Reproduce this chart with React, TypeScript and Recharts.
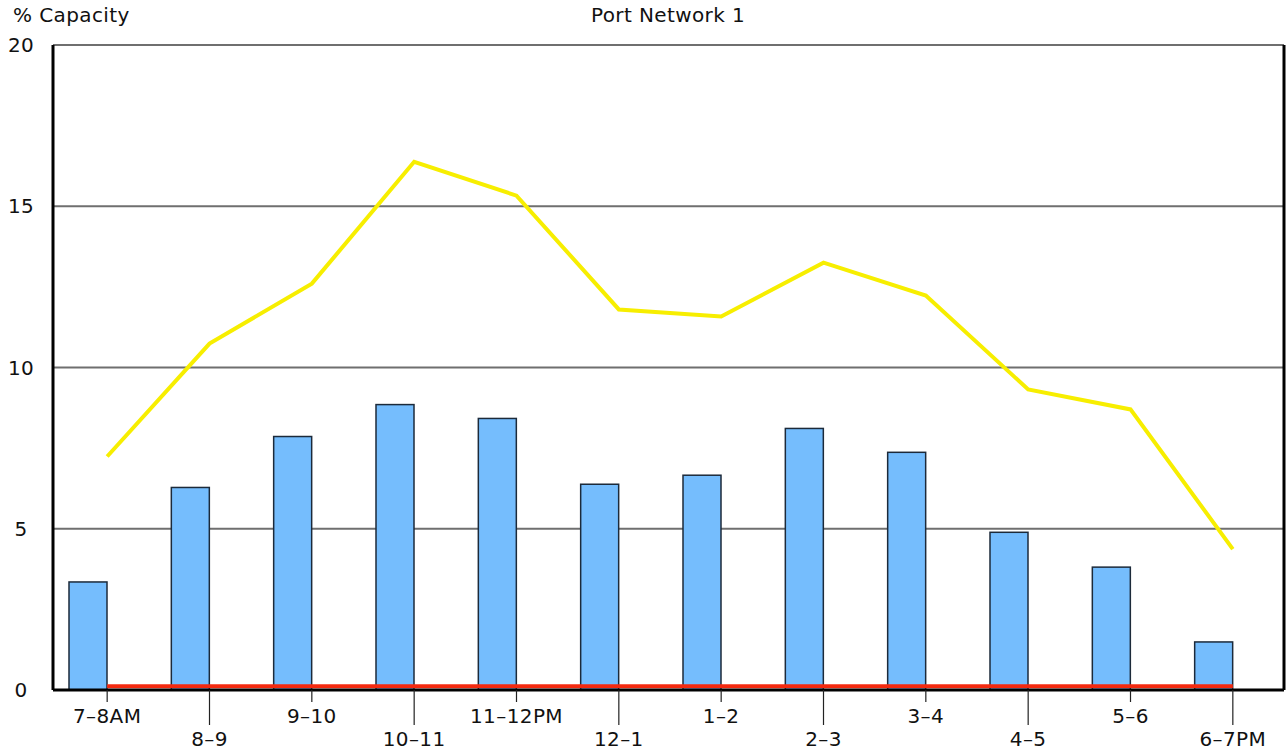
import React from "react";
import {
  ComposedChart,
  Bar,
  Line,
  XAxis,
  YAxis,
  CartesianGrid,
} from "recharts";

const HOURS = [
  "7–8AM", "8–9", "9–10", "10–11", "11–12PM", "12–1",
  "1–2", "2–3", "3–4", "4–5", "5–6", "6–7PM",
];
const BAR_VALUES = [3.35, 6.28, 7.86, 8.85, 8.42, 6.38, 6.66, 8.11, 7.37, 4.89, 3.81, 1.49];
const LINE_VALUES = [7.24, 10.74, 12.6, 16.38, 15.33, 11.8, 11.58, 13.25, 12.23, 9.32, 8.7, 4.37];
const BASE_VALUES = [0.12, 0.12, 0.12, 0.12, 0.12, 0.12, 0.12, 0.12, 0.12, 0.12, 0.12, 0.12];
const Y_TICKS = [0, 5, 10, 15, 20];

const FONT = "'DejaVu Sans', Verdana, sans-serif";
const FONT_SIZE = 20;
const LETTER_SPACING = 0.4;
const TEXT_COLOR = "#111";
const PLOT_TOP = 45;
const PLOT_BOTTOM = 690;

const data = HOURS.map((name, i) => ({
  name,
  bar: BAR_VALUES[i],
  line: LINE_VALUES[i],
  base: BASE_VALUES[i],
}));

// bars sit to the left of the tick, right edge on the category point
function OffsetBar(props: any) {
  const { x, y, width, height } = props;
  if (height == null || height <= 0) return null;
  return (
    <rect
      x={x - width / 2}
      y={y}
      width={width}
      height={height}
      fill="#75bdfd"
      stroke="#1c2a3a"
      strokeWidth={1.5}
    />
  );
}

function HourTick(props: any) {
  const { x, payload, index } = props;
  const low = index % 2 === 1;
  return (
    <g>
      <line x1={x} x2={x} y1={PLOT_BOTTOM} y2={low ? 725 : 702} stroke="#222" strokeWidth={1.2} />
      <text
        x={x}
        y={low ? 739 : 716}
        textAnchor="middle"
        dominantBaseline="central"
        fontFamily={FONT}
        fontSize={FONT_SIZE}
        letterSpacing={LETTER_SPACING}
        fill={TEXT_COLOR}
      >
        {payload.value}
      </text>
    </g>
  );
}

function ValueTick(props: any) {
  const { y, payload } = props;
  return (
    <text
      x={21}
      y={y}
      textAnchor="middle"
      dominantBaseline="central"
      fontFamily={FONT}
      fontSize={FONT_SIZE}
      letterSpacing={LETTER_SPACING}
      fill={TEXT_COLOR}
    >
      {payload.value}
    </text>
  );
}

export default function App() {
  const labelStyle: React.CSSProperties = {
    position: "absolute",
    top: 2,
    fontFamily: FONT,
    fontSize: FONT_SIZE,
    letterSpacing: LETTER_SPACING,
    color: TEXT_COLOR,
    lineHeight: "26px",
    whiteSpace: "nowrap",
  };
  return (
    <div style={{ position: "relative", width: 1286, height: 755, background: "#fff" }}>
      <style>{"body{margin:0;background:#fff}"}</style>
      <div style={{ ...labelStyle, left: 13 }}>% Capacity</div>
      <div style={{ ...labelStyle, left: 0, width: 1336, textAlign: "center" }}>
        Port Network 1
      </div>
      <div style={{ position: "absolute", left: 0, top: 0 }}>
        <ComposedChart
          width={1286}
          height={755}
          data={data}
          margin={{ top: PLOT_TOP, right: 0, left: 0, bottom: 0 }}
        >
          <CartesianGrid
            horizontal
            vertical={false}
            stroke="#6f6f6f"
            strokeWidth={2}
            yAxisId="left"
          />
          <XAxis
            dataKey="name"
            height={755 - PLOT_BOTTOM}
            interval={0}
            padding={{ left: 3, right: 0 }}
            tickLine={false}
            axisLine={{ stroke: "#000", strokeWidth: 3 }}
            tick={<HourTick />}
          />
          <YAxis
            yAxisId="left"
            width={53}
            domain={[0, 20]}
            ticks={Y_TICKS}
            tickLine={false}
            axisLine={{ stroke: "#000", strokeWidth: 3 }}
            tick={<ValueTick />}
          />
          <YAxis
            yAxisId="right"
            orientation="right"
            width={2}
            domain={[0, 20]}
            ticks={Y_TICKS}
            tick={false}
            tickLine={false}
            axisLine={{ stroke: "#000", strokeWidth: 3 }}
          />
          <Bar
            yAxisId="left"
            dataKey="bar"
            barSize={38}
            shape={<OffsetBar />}
            isAnimationActive={false}
          />
          <Line
            yAxisId="left"
            dataKey="base"
            type="linear"
            stroke="#f42a10"
            strokeWidth={4}
            dot={false}
            activeDot={false}
            isAnimationActive={false}
          />
          <Line
            yAxisId="left"
            dataKey="line"
            type="linear"
            stroke="#f7ee00"
            strokeWidth={4}
            dot={false}
            activeDot={false}
            isAnimationActive={false}
          />
        </ComposedChart>
      </div>
    </div>
  );
}
